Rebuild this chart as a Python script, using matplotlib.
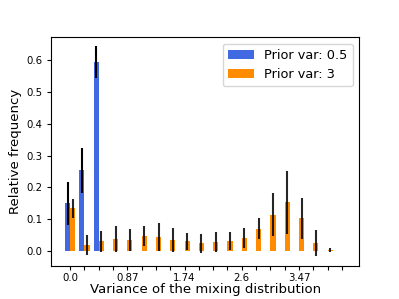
import numpy as np
from matplotlib import pyplot as plt

# 分布の分散のビン (20個)
tick_labels = ["0.0", "", "", "", "0.87", "", "", "", "1.74", "", "", "",
               "2.6", "", "", "", "3.47", "", "", ""]

# Prior var: 0.5
freq_a = [0.150, 0.254, 0.594, 0, 0, 0, 0, 0, 0, 0,
          0, 0, 0, 0, 0, 0, 0, 0, 0, 0]
err_a = [0.068, 0.071, 0.050, 0, 0, 0, 0, 0, 0, 0,
         0, 0, 0, 0, 0, 0, 0, 0, 0, 0]

# Prior var: 3
freq_b = [0.134, 0.019, 0.031, 0.038, 0.035, 0.047, 0.044, 0.035, 0.031, 0.024,
          0.028, 0.032, 0.041, 0.071, 0.115, 0.153, 0.103, 0.025, 0.003, 0]
err_b = [0.029, 0.032, 0.033, 0.040, 0.036, 0.031, 0.043, 0.037, 0.026, 0.029,
         0.031, 0.029, 0.032, 0.032, 0.066, 0.099, 0.064, 0.040, 0.007, 0]

x = np.arange(len(tick_labels))
w = 0.36

fig = plt.figure(figsize=(3.99, 2.99), dpi=100)
ax = fig.add_axes([0.128, 0.11, 0.772, 0.766])

ax.bar(x - w / 2, freq_a, w, yerr=err_a, color="royalblue", ecolor="black",
       error_kw={"elinewidth": 1.5}, label="Prior var: 0.5")
ax.bar(x + w / 2, freq_b, w, yerr=err_b, color="darkorange", ecolor="black",
       error_kw={"elinewidth": 1.5, "alpha": 0.85}, label="Prior var: 3")

ax.set_xticks(x)
ax.set_xticklabels(tick_labels)
ax.set_yticks([0.0, 0.1, 0.2, 0.3, 0.4, 0.5, 0.6])
ax.tick_params(labelsize=7.3, length=3, pad=2)
ax.tick_params(axis="y", pad=3)
ax.set_xlim(-1.33, 20.2)
ax.set_ylim(-0.047, 0.672)
ax.set_xlabel("Variance of the mixing distribution", fontsize=9.5, va="center")
ax.set_ylabel("Relative frequency", fontsize=9.5, va="center")
ax.xaxis.set_label_coords(0.5, -0.10)
ax.yaxis.set_label_coords(-0.117, 0.5)
ax.legend(loc="upper right", fontsize=9.3)

plt.savefig("out.png")
